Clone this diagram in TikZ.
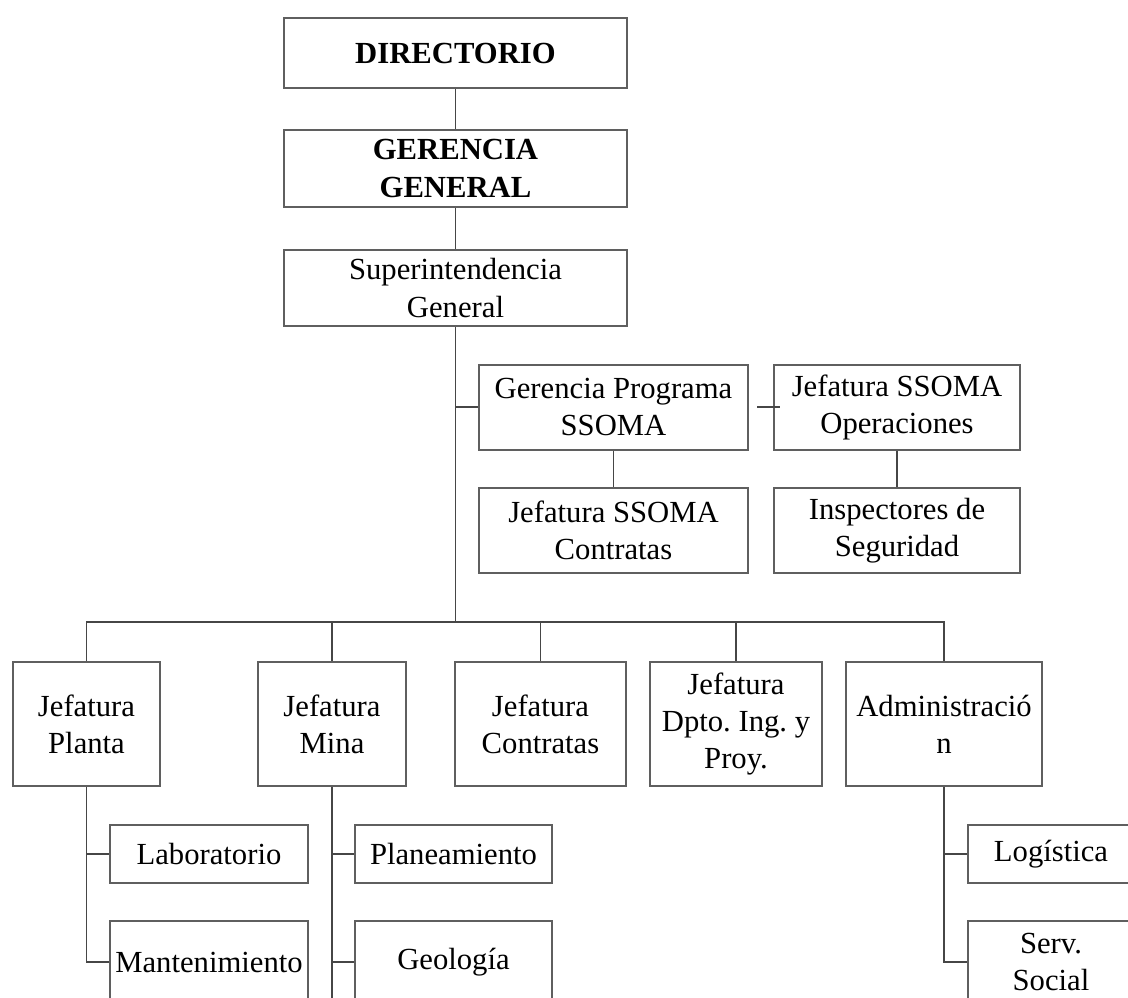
\documentclass[tikz,border=0pt]{standalone}
\usepackage{fontspec}
\setmainfont{Liberation Serif}
\definecolor{boxgray}{RGB}{95,95,95}
\definecolor{linegray}{RGB}{70,70,70}
\tikzset{every picture/.style={line width=0.75pt}}
\tikzset{
	unit box/.style={draw=boxgray, line width=0.75pt, fill=white, align=center, inner sep=0pt, font=\fontsize{11.5}{13.9}\selectfont},
	wh/.style 2 args={minimum width=#1*0.375pt, minimum height=#2*0.375pt},
	link/.style={draw=linegray, line width=0.6pt}}

\begin{document}
\begin{tikzpicture}[x=0.375pt,y=0.375pt,yscale=-1,xscale=1]
	%set diagram left start at 0, and has height of 997
	\useasboundingbox (0,0) rectangle (1128,997);
	\clip (0,0) rectangle (1128,997);

	%Shape: Rectangle [DIRECTORIO]
	\node [unit box, wh={343}{70}] (dir) at (455.5,53) {\bfseries DIRECTORIO};
	%Shape: Rectangle [GERENCIA GENERAL]
	\node [unit box, wh={343}{77}] (gg) at (455.5,168.5) {\bfseries GERENCIA\\\bfseries GENERAL};
	%Shape: Rectangle [Superintendencia]
	\node [unit box, wh={343}{76}] (sup) at (455.5,288) {Superintendencia\\General};

	%Shape: Rectangle [SSOMA]
	\node [unit box, wh={269}{85}] (gps) at (613.5,407) {Gerencia Programa\\SSOMA};
	\node [unit box, wh={246}{85}] (jso) at (897,407) {Jefatura SSOMA\\Operaciones};
	\node [unit box, wh={269}{85}] (jsc) at (613.5,530.5) {Jefatura SSOMA\\Contratas};
	\node [unit box, wh={246}{85}] (ins) at (897,530.5) {Inspectores de\\Seguridad};

	%Shape: Rectangle [Jefaturas]
	\node [unit box, wh={147}{124}] (pla) at (86.5,724) {Jefatura\\Planta};
	\node [unit box, wh={148}{124}] (min) at (332,724) {Jefatura\\Mina};
	\node [unit box, wh={171}{124}] (con) at (540.5,724) {Jefatura\\Contratas};
	\node [unit box, wh={172}{124}] (dpt) at (736,724) {Jefatura\\Dpto.\ Ing.\ y\\Proy.};
	\node [unit box, wh={196}{124}] (adm) at (944,724) {Administració\\n};

	%Shape: Rectangle [areas]
	\node [unit box, wh={198}{58}] (lab) at (209,854) {Laboratorio};
	\node [unit box, wh={198}{82}] (man) at (209,962) {Mantenimiento};
	\node [unit box, wh={197}{58}] (pln) at (453.5,854) {Planeamiento};
	\node [unit box, wh={197}{82}] (geo) at (453.5,962) {Geología};
	\node [unit box, wh={166}{58}] (log) at (1051,854) {Logística};
	\node [unit box, wh={166}{82}] (srv) at (1051,962) {Serv.\\Social};

	%Straight Lines
	\coordinate (bus) at (455.5,622);
	\coordinate (mend) at (332,1000);
	\draw [link] (dir) -- (gg);
	\draw [link] (gg) -- (sup);
	\draw [link] (sup.south) -- (bus);
	\draw [link] (sup.south |- gps.west) -- (gps.west);
	\draw [link] ([xshift=8*0.375pt]gps.east) -- ([xshift=7*0.375pt]jso.west);
	\draw [link] (gps) -- (jsc);
	\draw [link] (jso) -- (ins);
	%Straight Lines [bus]
	\foreach \n in {pla,min,con,dpt,adm}
		\draw [link] (bus) -| (\n.north);
	%Straight Lines [areas]
	\draw [link] (pla.south) |- (man.west);
	\draw [link] (pla.south |- lab.west) -- (lab.west);
	\draw [link] (min.south) -- (mend);
	\draw [link] (min.south |- pln.west) -- (pln.west);
	\draw [link] (min.south |- geo.west) -- (geo.west);
	\draw [link] (adm.south) |- (srv.west);
	\draw [link] (adm.south |- log.west) -- (log.west);

\end{tikzpicture}
\end{document}
